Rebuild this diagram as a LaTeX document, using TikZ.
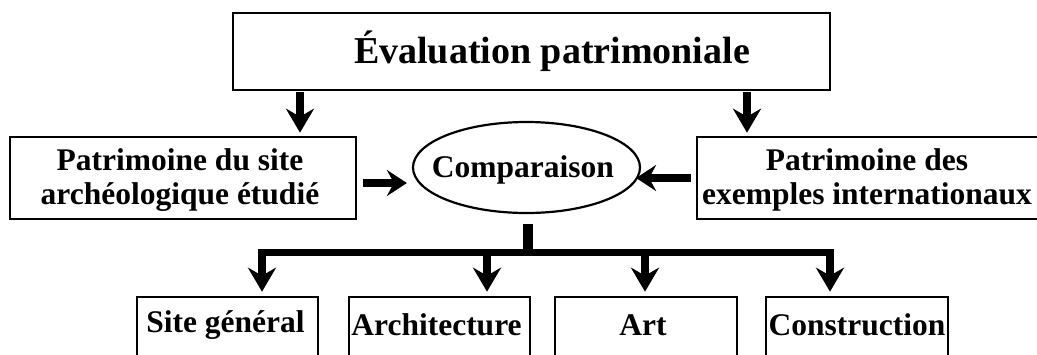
\documentclass[tikz,border=0pt]{standalone}
\usepackage{fontspec}
\setmainfont{Liberation Serif}
\usetikzlibrary{arrows.meta,shapes.geometric}

\begin{document}
\begin{tikzpicture}[x=1pt,y=-1pt,
  box/.style={draw, rectangle, line width=2.6pt, inner sep=0pt},
  oval/.style={draw, ellipse, line width=2.2pt, inner sep=0pt},
  lbl/.style={font=\fontsize{31.5}{34}\selectfont\bfseries, align=center, inner sep=0pt},
  title/.style={font=\fontsize{38}{40}\selectfont\bfseries, inner sep=0pt},
  flow/.style={line width=7.5pt, -{Stealth[length=24pt,width=28pt,inset=8pt]}},
  side/.style={line width=8pt, -{Stealth[length=20pt,width=26pt,inset=7pt]}},
]
\useasboundingbox (0,0) rectangle (1037,354);
\clip (0,0) rectangle (1037,354);

% main box
\node[box, minimum width=597pt, minimum height=77pt] (eval) at (531.5,51.5) {};
\node[title] (evaltxt) at (552,51) {Évaluation patrimoniale};

% the two heritage sources
\node[box, minimum width=346pt, minimum height=82pt] (site) at (183,178) {};
\node[lbl] (sitetxt) at (180,180) {Patrimoine du site\\archéologique étudié};
\node[box, minimum width=343pt, minimum height=82pt] (intl) at (868.5,178) {};
\node[lbl] (intltxt) at (867,180) {Patrimoine des\\exemples internationaux};

% comparison
\node[oval, minimum width=227pt, minimum height=91pt] (cmp) at (526.5,167.5) {};
\node[lbl] (cmptxt) at (523,170) {Comparaison};

% criteria boxes
\node[box, minimum width=181pt, minimum height=90pt] (b1) at (227.5,342) {};
\node[box, minimum width=181pt, minimum height=90pt] (b2) at (439.5,342) {};
\node[box, minimum width=182pt, minimum height=90pt] (b3) at (646,342) {};
\node[box, minimum width=182pt, minimum height=90pt] (b4) at (857,342) {};
\node[lbl] (t1) at (225.5,325) {Site général};
\node[lbl] (t2) at (436.5,325) {Architecture};
\node[lbl] (t3) at (643,325) {Art};
\node[lbl] (t4) at (857,325) {Construction};

% arrows from the main box
\coordinate (xl) at (300,0);
\coordinate (xr) at (747,0);
\draw[flow, shorten <=1pt, shorten >=3pt] (eval.south -| xl) -- (site.north -| xl);
\draw[flow, shorten <=1pt, shorten >=3pt] (eval.south -| xr) -- (intl.north -| xr);

% arrows into the comparison
\coordinate (yl) at (0,183);
\coordinate (yr) at (0,178);
\draw[side, shorten <=6pt, shorten >=5pt] (site.east |- yl) -- (cmp.west |- yl);
\draw[side, shorten <=5pt, shorten >=-5pt] (intl.west |- yr) -- (cmp.east |- yr);

% distribution bar
\coordinate (hub) at (528,252.5);
\coordinate (x1) at (262,0);
\coordinate (x2) at (487,0);
\coordinate (x3) at (645,0);
\coordinate (x4) at (830,0);
\draw[line width=10pt, shorten <=10pt] (cmp.south -| hub) -- (hub);
\draw[flow, line join=miter, shorten >=4pt] (hub) -| (b1.north -| x1);
\draw[flow, shorten >=4pt] (hub -| x2) -- (b2.north -| x2);
\draw[flow, shorten >=4pt] (hub -| x3) -- (b3.north -| x3);
\draw[flow, line join=miter, shorten >=4pt] (hub) -| (b4.north -| x4);
\end{tikzpicture}
\end{document}
